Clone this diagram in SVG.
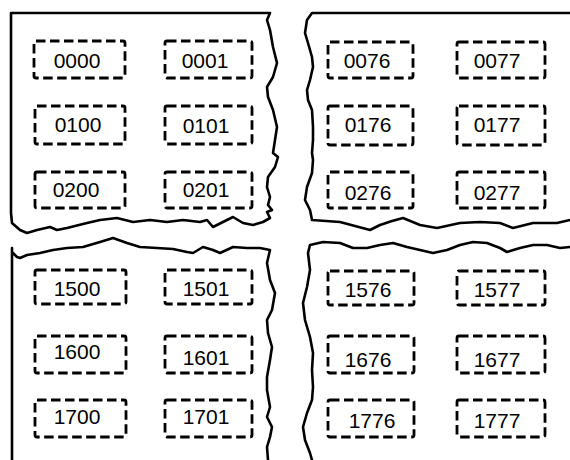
<svg xmlns="http://www.w3.org/2000/svg" width="570" height="460" viewBox="0 0 570 460">
<style>
.panel{fill:none;stroke:#000;stroke-width:2.6;stroke-linejoin:round;stroke-linecap:round}
.box{fill:none;stroke:#000;stroke-width:2.8;stroke-dasharray:9.5 4.5}
.lbl{font-family:"Liberation Sans","DejaVu Sans",sans-serif;font-size:21px;fill:#000;text-anchor:middle}
</style>
<rect width="570" height="460" fill="#fff"/>
<g id="panels">
<path id="panel-tl" class="panel" d="M270,13 L11,13 L11,213 L12,223 L20,230 L27,233 L37,230 L50,227 L57,230 L67,228 L87,223 L100,220 L117,218 L133,222 L150,220 L167,222 L183,220 L200,222 L207,220 L213,227 L223,222 L233,217 L243,223 L253,225 L263,222 L270,218 L267,212 L272,210 L268,205 L270,197 L267,187 L268,177 L275,167 L278,157 L273,153 L275,140 L277,127 L273,110 L268,97 L267,87 L273,77 L277,63 L273,47 L270,30 L267,20 Z"/>
<path id="panel-tr" class="panel" d="M570,13 L312,13 L307,20 L305,33 L308,43 L312,57 L313,67 L310,80 L307,90 L308,100 L312,110 L313,127 L313,140 L312,153 L313,160 L312,173 L307,187 L305,200 L310,210 L312,220 L340,222 L355,226 L370,230 L380,225 L392,221 L403,218 L420,225 L437,228 L460,223 L480,222 L500,223 L513,228 L533,223 L557,223 L570,220"/>
<path id="panel-bl" class="panel" d="M12,460 L12,248 L12,252 L17,257 L20,258 L27,255 L40,253 L53,250 L67,248 L83,247 L100,242 L113,238 L127,243 L140,247 L157,248 L173,249 L187,252 L193,253 L203,247 L213,250 L220,253 L233,247 L247,248 L260,248 L270,250 L267,263 L270,280 L275,293 L272,310 L267,320 L268,333 L272,347 L270,360 L267,377 L267,390 L270,407 L267,417 L272,427 L270,437 L267,447 L268,460"/>
<path id="panel-br" class="panel" d="M570,247 L560,248 L547,245 L533,245 L520,248 L507,252 L500,248 L487,243 L473,242 L460,245 L447,250 L433,253 L420,250 L407,247 L393,243 L380,245 L367,248 L353,248 L340,243 L323,242 L310,245 L308,253 L310,270 L307,287 L303,303 L305,320 L310,337 L313,353 L312,370 L313,387 L312,400 L307,413 L303,427 L305,440 L310,453 L312,460"/>
</g>
<g id="n0000"><rect class="box" x="34" y="41" width="91" height="37" rx="2"/><text class="lbl" x="77" y="68">0000</text></g>
<g id="n0001"><rect class="box" x="165" y="41" width="87" height="37" rx="2"/><text class="lbl" x="205" y="68">0001</text></g>
<g id="n0100"><rect class="box" x="35" y="106" width="90" height="38" rx="2"/><text class="lbl" x="78" y="132">0100</text></g>
<g id="n0101"><rect class="box" x="165" y="106" width="87" height="38" rx="2"/><text class="lbl" x="206" y="133">0101</text></g>
<g id="n0200"><rect class="box" x="35" y="172" width="90" height="36" rx="2"/><text class="lbl" x="76" y="197">0200</text></g>
<g id="n0201"><rect class="box" x="165" y="172" width="87" height="36" rx="2"/><text class="lbl" x="206" y="197">0201</text></g>
<g id="n0076"><rect class="box" x="328" y="42" width="85" height="36" rx="2"/><text class="lbl" x="367" y="68">0076</text></g>
<g id="n0077"><rect class="box" x="457" y="42" width="88" height="36" rx="2"/><text class="lbl" x="497" y="68">0077</text></g>
<g id="n0176"><rect class="box" x="328" y="106" width="85" height="39" rx="2"/><text class="lbl" x="368" y="132">0176</text></g>
<g id="n0177"><rect class="box" x="457" y="106" width="88" height="39" rx="2"/><text class="lbl" x="497" y="132">0177</text></g>
<g id="n0276"><rect class="box" x="328" y="172" width="85" height="36" rx="2"/><text class="lbl" x="368" y="200">0276</text></g>
<g id="n0277"><rect class="box" x="457" y="172" width="88" height="36" rx="2"/><text class="lbl" x="497" y="200">0277</text></g>
<g id="n1500"><rect class="box" x="35" y="270" width="91" height="34" rx="2"/><text class="lbl" x="77" y="296">1500</text></g>
<g id="n1501"><rect class="box" x="165" y="270" width="87" height="34" rx="2"/><text class="lbl" x="206" y="296">1501</text></g>
<g id="n1600"><rect class="box" x="35" y="336" width="91" height="37" rx="2"/><text class="lbl" x="77" y="359">1600</text></g>
<g id="n1601"><rect class="box" x="165" y="336" width="87" height="37" rx="2"/><text class="lbl" x="206" y="365">1601</text></g>
<g id="n1700"><rect class="box" x="35" y="400" width="91" height="37" rx="2"/><text class="lbl" x="77" y="424">1700</text></g>
<g id="n1701"><rect class="box" x="165" y="400" width="87" height="37" rx="2"/><text class="lbl" x="206" y="424">1701</text></g>
<g id="n1576"><rect class="box" x="328" y="271" width="86" height="34" rx="2"/><text class="lbl" x="368" y="297">1576</text></g>
<g id="n1577"><rect class="box" x="457" y="271" width="88" height="34" rx="2"/><text class="lbl" x="497" y="297">1577</text></g>
<g id="n1676"><rect class="box" x="328" y="336" width="86" height="37" rx="2"/><text class="lbl" x="368" y="367">1676</text></g>
<g id="n1677"><rect class="box" x="457" y="336" width="88" height="37" rx="2"/><text class="lbl" x="497" y="367">1677</text></g>
<g id="n1776"><rect class="box" x="328" y="400" width="86" height="37" rx="2"/><text class="lbl" x="372" y="428">1776</text></g>
<g id="n1777"><rect class="box" x="457" y="400" width="88" height="37" rx="2"/><text class="lbl" x="497" y="428">1777</text></g>
</svg>
